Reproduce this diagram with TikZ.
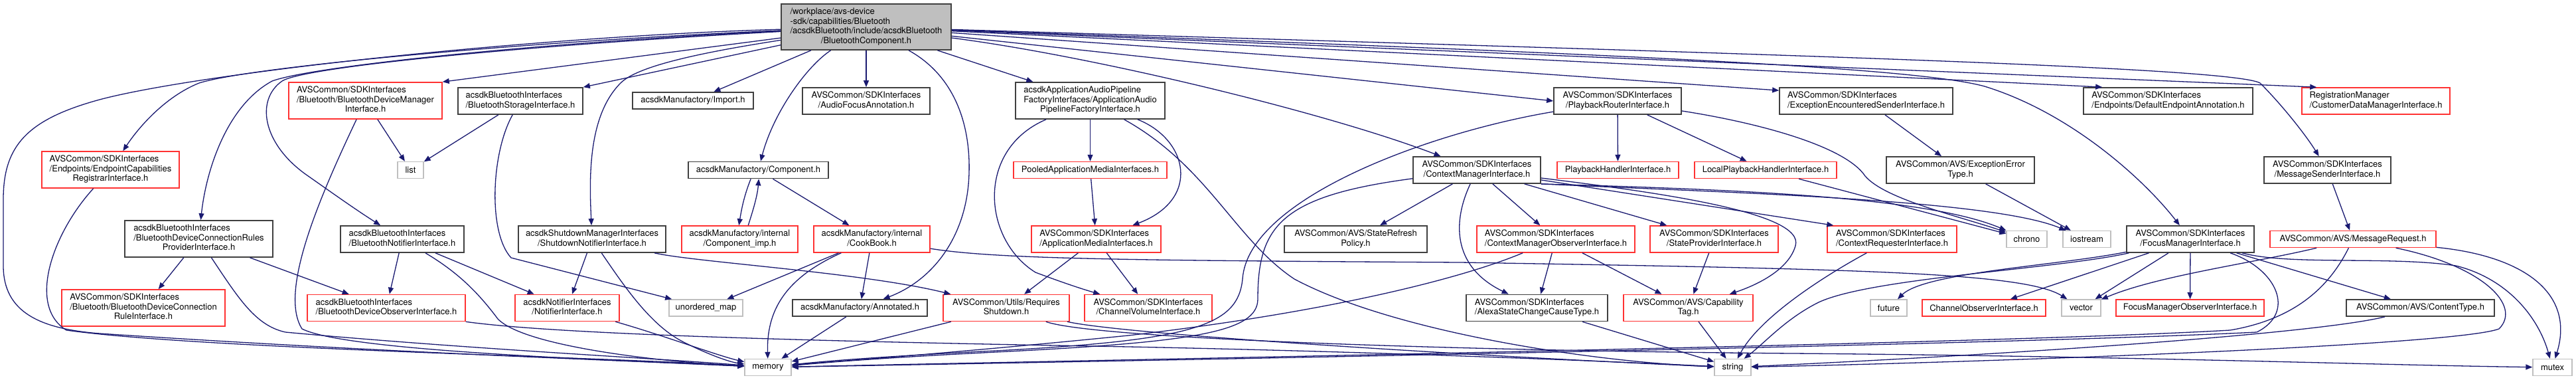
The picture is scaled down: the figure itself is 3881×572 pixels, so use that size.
\documentclass[tikz,border=0pt]{standalone}
\usepackage{fontspec}
\setmainfont{TeX Gyre Heros}
\usetikzlibrary{arrows.meta,calc}
\definecolor{edgec}{HTML}{191970}
\definecolor{bblack}{HTML}{404040}
\definecolor{bred}{HTML}{FF3232}
\definecolor{bgray}{HTML}{BFBFBF}
\newcommand{\ml}[2]{\begin{tabular}{@{}l@{}}#1\\\multicolumn{1}{@{}c@{}}{#2}\end{tabular}}
\tikzset{
  nbase/.style={draw, line width=1.5pt, inner sep=0pt, font=\fontsize{13}{14.5}\selectfont, text=black},
  bk/.style={nbase, draw=bblack, line width=1.7pt},
  rd/.style={nbase, draw=bred},
  gr/.style={nbase, draw=bgray, line width=1.4pt},
  hone/.style={minimum height=25pt},
  htwo/.style={minimum height=40pt},
  hthree/.style={minimum height=55pt},
  lnk/.style={draw=edgec, line width=1.3pt, -{Triangle[length=10pt,width=8pt]}},
}
\begin{document}
\begin{tikzpicture}[x=1pt,y=-1pt]
\useasboundingbox (0,0) rectangle (3881,572);
% ---------- nodes ----------
\node[bk, fill=bgray, minimum width=256pt, minimum height=69pt] (M) at (1305,40.5) {\ml{/workplace/avs-device\\-sdk/capabilities/Bluetooth\\/acsdkBluetooth/include/acsdkBluetooth}{/BluetoothComponent.h}};
% row 1
\node[rd,hthree,minimum width=231pt] (BDMI) at (550.5,151.5) {\ml{AVSCommon/SDKInterfaces\\/Bluetooth/BluetoothDeviceManager}{Interface.h}};
\node[bk,htwo,minimum width=188pt] (BSI) at (784,152) {\ml{acsdkBluetoothInterfaces}{/BluetoothStorageInterface.h}};
\node[bk,hone,minimum width=182pt] (Import) at (1044,151.5) {acsdkManufactory/Import.h};
\node[bk,htwo,minimum width=192pt] (AFA) at (1305,152) {\ml{AVSCommon/SDKInterfaces}{/AudioFocusAnnotation.h}};
\node[bk,hthree,minimum width=225pt] (AAPF) at (1642.5,151.5) {\ml{acsdkApplicationAudioPipeline\\FactoryInterfaces/ApplicationAudio}{PipelineFactoryInterface.h}};
\node[bk,htwo,minimum width=192pt] (PRI) at (2437,152) {\ml{AVSCommon/SDKInterfaces}{/PlaybackRouterInterface.h}};
\node[bk,htwo,minimum width=261pt] (EESI) at (2811.5,152) {\ml{AVSCommon/SDKInterfaces}{/ExceptionEncounteredSenderInterface.h}};
\node[bk,htwo,minimum width=255pt] (DEA) at (3266.5,152) {\ml{AVSCommon/SDKInterfaces}{/Endpoints/DefaultEndpointAnnotation.h}};
\node[rd,htwo,minimum width=223pt] (CDM) at (3579.5,152) {\ml{RegistrationManager}{/CustomerDataManagerInterface.h}};
% row 2
\node[rd,hthree,minimum width=207pt] (EPCR) at (166.5,255.5) {\ml{AVSCommon/SDKInterfaces\\/Endpoints/EndpointCapabilities}{RegistrarInterface.h}};
\node[gr,hone,minimum width=39pt] (list) at (618.5,256) {list};
\node[bk,hone,minimum width=211pt] (Comp) at (1142.5,256) {acsdkManufactory/Component.h};
\node[rd,hone,minimum width=231pt] (PAMI) at (1642.5,256) {PooledApplicationMediaInterfaces.h};
\node[bk,htwo,minimum width=192pt] (CMI) at (2225,256) {\ml{AVSCommon/SDKInterfaces}{/ContextManagerInterface.h}};
\node[rd,hone,minimum width=183pt] (PHI) at (2437.5,256) {PlaybackHandlerInterface.h};
\node[rd,hone,minimum width=214pt] (LPHI) at (2660,256) {LocalPlaybackHandlerInterface.h};
\node[bk,htwo,minimum width=223pt] (EET) at (2953.5,256) {\ml{AVSCommon/AVS/ExceptionError}{Type.h}};
\node[bk,htwo,minimum width=191pt] (MSI) at (3506.5,256) {\ml{AVSCommon/SDKInterfaces}{/MessageSenderInterface.h}};
% row 3
\node[bk,hthree,minimum width=223pt] (BDCRP) at (299.5,359.5) {\ml{acsdkBluetoothInterfaces\\/BluetoothDeviceConnectionRules}{ProviderInterface.h}};
\node[bk,htwo,minimum width=186pt] (BNI) at (606,360) {\ml{acsdkBluetoothInterfaces}{/BluetoothNotifierInterface.h}};
\node[bk,htwo,minimum width=222pt] (SNI) at (892,360) {\ml{acsdkShutdownManagerInterfaces}{/ShutdownNotifierInterface.h}};
\node[rd,htwo,minimum width=175pt] (CompImp) at (1114.5,360) {\ml{acsdkManufactory/internal}{/Component\_imp.h}};
\node[rd,htwo,minimum width=175pt] (CookBook) at (1313.5,360) {\ml{acsdkManufactory/internal}{/CookBook.h}};
\node[rd,htwo,minimum width=195pt] (AMI) at (1651.5,360) {\ml{AVSCommon/SDKInterfaces}{/ApplicationMediaInterfaces.h}};
\node[bk,htwo,minimum width=215pt] (SRP) at (2042.5,360) {\ml{AVSCommon/AVS/StateRefresh}{Policy.h}};
\node[rd,htwo,minimum width=238pt] (CMOI) at (2344,360) {\ml{AVSCommon/SDKInterfaces}{/ContextManagerObserverInterface.h}};
\node[rd,htwo,minimum width=193pt] (SPI) at (2582.5,360) {\ml{AVSCommon/SDKInterfaces}{/StateProviderInterface.h}};
\node[rd,htwo,minimum width=195pt] (CRI) at (2850.5,360) {\ml{AVSCommon/SDKInterfaces}{/ContextRequesterInterface.h}};
\node[gr,hone,minimum width=61pt] (chrono) at (3053.5,360) {chrono};
\node[gr,hone,minimum width=72pt] (iostream) at (3144,360) {iostream};
\node[bk,htwo,minimum width=192pt] (FMI) at (3300,360) {\ml{AVSCommon/SDKInterfaces}{/FocusManagerInterface.h}};
\node[rd,hone,minimum width=250pt] (MR) at (3545,360) {AVSCommon/AVS/MessageRequest.h};
% row 4
\node[rd,hthree,minimum width=246pt] (BDCRule) at (216,463.5) {\ml{AVSCommon/SDKInterfaces\\/Bluetooth/BluetoothDeviceConnection}{RuleInterface.h}};
\node[rd,htwo,minimum width=238pt] (BDOI) at (582,463.5) {\ml{acsdkBluetoothInterfaces}{/BluetoothDeviceObserverInterface.h}};
\node[rd,htwo,minimum width=157pt] (NI) at (854.5,463.5) {\ml{acsdkNotifierInterfaces}{/NotifierInterface.h}};
\node[gr,hone,minimum width=111pt] (umap) at (1063.5,463.5) {unordered\_map};
\node[bk,hone,minimum width=203pt] (Annotated) at (1295.5,463.5) {acsdkManufactory/Annotated.h};
\node[rd,htwo,minimum width=190pt] (RS) at (1516,463.5) {\ml{AVSCommon/Utils/Requires}{Shutdown.h}};
\node[rd,htwo,minimum width=192pt] (CVI) at (1730,463.5) {\ml{AVSCommon/SDKInterfaces}{/ChannelVolumeInterface.h}};
\node[bk,htwo,minimum width=213pt] (ASCCT) at (2315.5,463.5) {\ml{AVSCommon/SDKInterfaces}{/AlexaStateChangeCauseType.h}};
\node[rd,htwo,minimum width=195pt] (CapTag) at (2543.5,463.5) {\ml{AVSCommon/AVS/Capability}{Tag.h}};
\node[gr,hone,minimum width=55pt] (future) at (2845.5,463.5) {future};
\node[rd,hone,minimum width=186pt] (COI) at (2989,463.5) {ChannelObserverInterface.h};
\node[gr,hone,minimum width=59pt] (vector) at (3135.5,463.5) {vector};
\node[rd,hone,minimum width=223pt] (FMOI) at (3299.5,463.5) {FocusManagerObserverInterface.h};
\node[bk,hone,minimum width=223pt] (ContentType) at (3646.5,463.5) {AVSCommon/AVS/ContentType.h};
% row 5
\node[gr,hone,minimum width=70pt] (memory) at (1157,553) {memory};
\node[gr,hone,minimum width=55pt] (string) at (2610.5,553) {string};
\node[gr,hone,minimum width=59pt] (mutex) at (3845.5,553) {mutex};
% ---------- edges from main ----------
\draw[lnk] (M) .. controls (800,55) and (300,110) .. (150,150) .. controls (40,180) and (5,220) .. (5,300) -- (5,400) .. controls (5,470) and (60,495) .. (150,502) .. controls (600,532) and (1000,545) .. (memory);
\draw[lnk] (M) .. controls (800,62) and (380,100) .. (300,125) .. controls (250,145) and (210,190) .. (EPCR);
\draw[lnk] (M) .. controls (800,65) and (470,100) .. (410,122) .. controls (340,160) and (310,260) .. (BDCRP);
\draw[lnk] (M) .. controls (800,68) and (460,100) .. (425,122) .. controls (385,150) and (395,215) .. (460,262) .. controls (500,290) and (535,315) .. (BNI);
\draw[lnk] (M) -- (BDMI.north east);
\draw[lnk] (M) -- (BSI.north east);
\draw[lnk] (M) -- (Import);
\draw[lnk] (M) .. controls (1050,80) and (960,100) .. (935,125) .. controls (885,175) and (888,270) .. (SNI);
\draw[lnk] (M) .. controls (1215,100) and (1165,170) .. (Comp);
\draw[lnk] (M) -- (AFA);
\draw[lnk] (M) .. controls (1440,115) and (1462,190) .. (1460,260) .. controls (1458,350) and (1410,420) .. (Annotated);
\draw[lnk] (M) -- (AAPF);
\draw[lnk] (M) .. controls (1650,85) and (2000,170) .. (CMI);
\draw[lnk] (M) -- (PRI.west);
\draw[lnk] (M) -- ($(EESI.north west)+(0,5)$);
\draw[lnk] (M) -- ($(DEA.north west)+(29,0)$);
\draw[lnk] (M) .. controls (2400,80) and (2880,100) .. (2990,130) .. controls (3120,170) and (3230,270) .. (FMI);
\draw[lnk] (M) -- ($(CDM.north west)+(23,0)$);
\draw[lnk] (M) .. controls (2600,80) and (3360,100) .. (3405,125) .. controls (3440,160) and (3475,205) .. (MSI);
% ---------- left part ----------
\draw[lnk] (EPCR) .. controls (80,350) and (40,460) .. (100,497) .. controls (300,525) and (900,537) .. (memory);
\draw[lnk] (BDCRP) -- (BDCRule);
\draw[lnk] (BDCRP) -- (BDOI);
\draw[lnk] (BDCRP) .. controls (360,450) and (385,490) .. (430,500) .. controls (700,525) and (1000,540) .. (memory);
\draw[lnk] (BDMI) -- (list);
\draw[lnk] (BDMI) .. controls (480,300) and (420,440) .. (455,495) .. controls (520,528) and (900,541) .. (memory);
\draw[lnk] (BSI) -- (list);
\draw[lnk] (BSI) .. controls (740,230) and (735,350) .. (770,388) -- (umap);
\draw[lnk] (BNI) -- (BDOI);
\draw[lnk] (BNI) -- (NI);
\draw[lnk] (BNI) .. controls (690,410) and (720,440) .. (750,480) .. controls (790,522) and (1000,545) .. (memory);
\draw[lnk] (SNI) -- (NI);
\draw[lnk] (SNI) .. controls (940,430) and (980,490) .. (1030,515) .. controls (1070,535) and (1100,545) .. (memory);
\draw[lnk] (SNI) .. controls (1050,395) and (1300,410) .. (RS);
\draw[lnk] (NI) .. controls (1000,505) and (1080,535) .. (memory);
\draw[lnk] (BDOI.south east) .. controls (850,505) and (1300,515) .. (1700,522) .. controls (2100,530) and (2450,545) .. (string);
% ---------- manufactory ----------
\draw[lnk] ($(Comp.south west)+(95,0)$) .. controls +(-10,25) and +(4,-25) .. ($(CompImp.north west)+(87,0)$);
\draw[lnk] ($(CompImp.north west)+(101,0)$) .. controls +(8,-25) and +(-2,25) .. ($(Comp.south west)+(107,0)$);
\draw[lnk] (Comp) -- (CookBook);
\draw[lnk] (CookBook) -- (umap);
\draw[lnk] (CookBook) -- (Annotated);
\draw[lnk] (CookBook) .. controls (1180,420) and (1155,470) .. (memory);
\draw[lnk] (CookBook) .. controls (1500,390) and (1700,392) .. (2200,395) .. controls (2800,405) and (3050,410) .. (vector);
\draw[lnk] (Annotated) -- (memory);
\draw[lnk] (RS) -- (memory);
\draw[lnk] (RS) .. controls (1700,505) and (2300,540) .. (string);
\draw[lnk] (RS) .. controls (1650,510) and (2200,528) .. (2700,532) .. controls (3200,536) and (3600,550) .. (mutex);
% ---------- audio pipeline ----------
\draw[lnk] (AAPF) -- (PAMI);
\draw[lnk] (AAPF) .. controls (1790,210) and (1810,300) .. (AMI);
\draw[lnk] (AAPF) .. controls (1470,225) and (1480,360) .. (1560,410) .. controls (1600,425) and (1630,435) .. (CVI);
\draw[lnk] (AAPF) .. controls (1820,250) and (1860,360) .. (1950,420) .. controls (2100,500) and (2400,545) .. (string);
\draw[lnk] (PAMI) -- (AMI);
\draw[lnk] (AMI) -- (RS);
\draw[lnk] (AMI) -- (CVI);
% ---------- context manager ----------
\draw[lnk] (CMI) -- (SRP);
\draw[lnk] (CMI) -- (CMOI);
\draw[lnk] (CMI) .. controls (2190,330) and (2185,400) .. (ASCCT);
\draw[lnk] (CMI) -- (SPI);
\draw[lnk] (CMI) .. controls (2500,290) and (2720,320) .. (2705,370) .. controls (2695,405) and (2650,428) .. (CapTag);
\draw[lnk] (CMI) -- ($(CRI.north west)+(10,0)$);
\draw[lnk] (CMI.south east) .. controls (2600,285) and (2900,295) .. (chrono);
\draw[lnk] (CMI.south east) .. controls (2600,290) and (3000,300) .. (iostream);
\draw[lnk] (CMI) .. controls (1930,295) and (1895,340) .. (1895,450) .. controls (1895,500) and (1800,515) .. (1500,530) .. controls (1300,540) and (1220,548) .. (memory);
\draw[lnk] (CMOI) -- (ASCCT);
\draw[lnk] (CMOI) -- (CapTag);
\draw[lnk] (CMOI) .. controls (2200,420) and (2000,470) .. (1700,505) .. controls (1400,535) and (1230,546) .. (memory);
\draw[lnk] (SPI) -- (CapTag);
\draw[lnk] (ASCCT) -- (string);
\draw[lnk] (CapTag) -- (string);
\draw[lnk] (CRI) .. controls (2740,420) and (2650,480) .. (string);
% ---------- playback ----------
\draw[lnk] (PRI) -- (PHI);
\draw[lnk] (PRI) -- (LPHI);
\draw[lnk] (PRI) .. controls (2150,200) and (1880,300) .. (1872,420) .. controls (1865,490) and (1800,512) .. (1500,528) .. controls (1300,538) and (1220,546) .. (memory);
\draw[lnk] (PRI) .. controls (2650,185) and (2780,220) .. (2810,265) .. controls (2840,300) and (2950,325) .. (chrono);
\draw[lnk] (LPHI) -- (chrono);
\draw[lnk] (EESI) -- (EET);
\draw[lnk] (EET) -- (iostream);
% ---------- focus manager ----------
\draw[lnk] (FMI) .. controls (3100,400) and (2900,410) .. (future);
\draw[lnk] (FMI) -- (COI);
\draw[lnk] (FMI) -- (vector);
\draw[lnk] (FMI) -- (FMOI);
\draw[lnk] (FMI) -- (ContentType);
\draw[lnk] (FMI) .. controls (3100,405) and (2820,418) .. (2740,455) .. controls (2690,480) and (2660,515) .. (string);
\draw[lnk] (FMI) .. controls (3430,405) and (3460,470) .. (3400,500) .. controls (3000,520) and (1600,545) .. (memory);
\draw[lnk] (FMI) .. controls (3450,400) and (3600,385) .. (3700,400) .. controls (3780,420) and (3825,480) .. (mutex);
% ---------- message sender ----------
\draw[lnk] (MSI) -- (MR);
\draw[lnk] (MR) .. controls (3400,395) and (3250,415) .. (vector);
\draw[lnk] (MR) .. controls (3510,430) and (3460,480) .. (3360,497) .. controls (3000,518) and (1600,543) .. (memory);
\draw[lnk] (MR) .. controls (3740,400) and (3800,460) .. (3765,495) .. controls (3700,520) and (3000,545) .. (string);
\draw[lnk] (MR) .. controls (3800,385) and (3880,440) .. (mutex);
\draw[lnk] (ContentType) .. controls (3500,500) and (3100,530) .. (string);
\end{tikzpicture}
\end{document}
